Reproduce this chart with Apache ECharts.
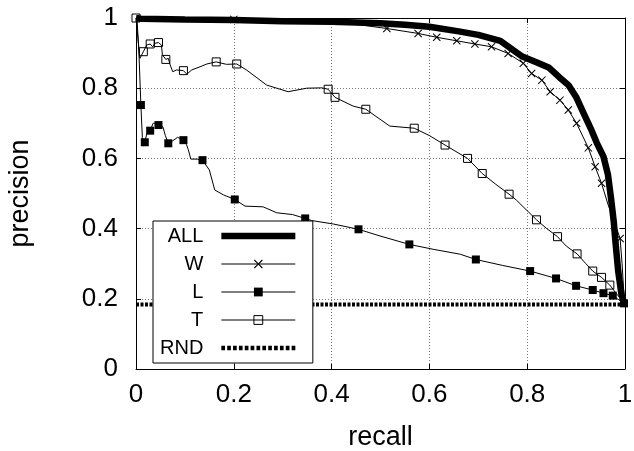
<!DOCTYPE html>
<html><head><meta charset="utf-8">
<script src="https://cdn.jsdelivr.net/npm/echarts@6/dist/echarts.min.js"></script>
<style>html,body{margin:0;padding:0;background:#fff}#c{width:634px;height:451px}</style>
</head><body><div id="c"></div><script>
const seriesNames = ['ALL', 'W', 'L', 'T', 'RND'];
const xTickLabels = ['0', '0.2', '0.4', '0.6', '0.8', '1'];
const yTickLabels = ['0', '0.2', '0.4', '0.6', '0.8', '1'];
const xAxisTitle = 'recall';
const yAxisTitle = 'precision';

const allCurve = [[0,1],[0.01,0.998],[0.1,0.996],[0.2,0.994],[0.3,0.991],[0.4,0.989],[0.5,0.985],[0.55,0.981],[0.6,0.975],[0.66,0.962],[0.7,0.952],[0.745,0.935],[0.77,0.91],[0.79,0.89],[0.82,0.873],[0.845,0.858],[0.865,0.832],[0.885,0.808],[0.9,0.775],[0.915,0.73],[0.93,0.685],[0.942,0.645],[0.956,0.605],[0.965,0.555],[0.972,0.48],[0.977,0.42],[0.98,0.37],[0.986,0.28],[0.993,0.21],[1.0,0.182]];

const wCurve = [[0,1],[0.1,0.997],[0.2,0.996],[0.3,0.993],[0.4,0.988],[0.45,0.982],[0.513,0.97],[0.577,0.956],[0.615,0.945],[0.656,0.935],[0.693,0.926],[0.727,0.918],[0.761,0.899],[0.792,0.871],[0.809,0.842],[0.83,0.823],[0.847,0.79],[0.867,0.766],[0.884,0.738],[0.901,0.70],[0.925,0.63],[0.939,0.576],[0.952,0.529],[0.965,0.47],[0.978,0.42],[0.99,0.372],[0.994,0.3],[0.997,0.23],[1,0.185]];
const wMarks = [[0.2,0.996],[0.513,0.97],[0.577,0.956],[0.615,0.945],[0.656,0.935],[0.693,0.926],[0.727,0.918],[0.761,0.899],[0.792,0.871],[0.809,0.842],[0.83,0.823],[0.847,0.79],[0.867,0.766],[0.884,0.738],[0.901,0.70],[0.925,0.63],[0.939,0.576],[0.952,0.529],[0.99,0.372]];

const lCurve = [[0.002,1],[0.006,0.9],[0.01,0.752],[0.013,0.66],[0.015,0.635],[0.018,0.646],[0.022,0.67],[0.029,0.679],[0.035,0.70],[0.04,0.70],[0.046,0.695],[0.055,0.69],[0.06,0.665],[0.066,0.643],[0.075,0.65],[0.085,0.66],[0.097,0.652],[0.103,0.64],[0.107,0.625],[0.112,0.598],[0.125,0.598],[0.136,0.595],[0.15,0.567],[0.161,0.51],[0.179,0.496],[0.202,0.483],[0.223,0.464],[0.26,0.462],[0.288,0.445],[0.32,0.44],[0.346,0.429],[0.359,0.423],[0.404,0.413],[0.455,0.398],[0.499,0.379],[0.559,0.355],[0.608,0.341],[0.663,0.327],[0.695,0.312],[0.75,0.295],[0.806,0.279],[0.859,0.258],[0.90,0.237],[0.934,0.225],[0.956,0.216],[0.975,0.209],[0.998,0.187]];
const lMarks = [[0.01,0.752],[0.018,0.646],[0.029,0.679],[0.046,0.695],[0.066,0.643],[0.097,0.652],[0.136,0.595],[0.202,0.483],[0.346,0.429],[0.455,0.398],[0.559,0.355],[0.695,0.312],[0.806,0.279],[0.859,0.258],[0.90,0.237],[0.934,0.225],[0.956,0.216],[0.975,0.209],[0.998,0.187]];

const tCurve = [[0,0.999],[0.008,0.885],[0.015,0.904],[0.022,0.923],[0.029,0.926],[0.034,0.918],[0.039,0.928],[0.046,0.93],[0.052,0.923],[0.054,0.895],[0.061,0.882],[0.066,0.885],[0.07,0.866],[0.075,0.847],[0.083,0.852],[0.097,0.85],[0.104,0.84],[0.114,0.852],[0.131,0.861],[0.145,0.869],[0.164,0.875],[0.185,0.868],[0.206,0.869],[0.226,0.852],[0.267,0.809],[0.311,0.79],[0.349,0.80],[0.38,0.801],[0.393,0.797],[0.407,0.774],[0.444,0.749],[0.47,0.74],[0.519,0.692],[0.569,0.686],[0.6,0.665],[0.632,0.638],[0.678,0.60],[0.708,0.557],[0.735,0.527],[0.763,0.498],[0.778,0.481],[0.819,0.425],[0.84,0.40],[0.862,0.377],[0.88,0.35],[0.902,0.328],[0.92,0.30],[0.934,0.279],[0.952,0.261],[0.969,0.239],[0.985,0.21],[1.0,0.187]];
const tMarks = [[0,1],[0.015,0.904],[0.029,0.926],[0.046,0.93],[0.061,0.882],[0.097,0.85],[0.164,0.875],[0.206,0.869],[0.393,0.797],[0.407,0.774],[0.47,0.74],[0.569,0.686],[0.632,0.638],[0.678,0.60],[0.708,0.557],[0.763,0.498],[0.819,0.425],[0.862,0.377],[0.902,0.328],[0.934,0.279],[0.952,0.261],[0.969,0.239]];

const rndCurve = [[0,0.184],[1,0.184]];

const FONT = '"Liberation Sans", Arial, Helvetica, sans-serif';
const crossPath = 'path://M0,0.9L0.9,0L5,4.1L9.1,0L10,0.9L5.9,5L10,9.1L9.1,10L5,5.9L0.9,10L0,9.1L4.1,5Z';
const thickIcon = 'path://M0,0H74V6.5H0Z';
let dashIcon = 'path://';
for (let i = 0; i < 13; i++) { const x0 = i * 5.875; dashIcon += 'M' + x0 + ',0H' + (x0 + 3.7) + 'V4.5H' + x0 + 'Z'; }

function tickFmt(labels) { return v => labels[Math.round(v / 0.2)]; }

const axisCommon = {
  type: 'value', min: 0, max: 1, interval: 0.2,
  axisLine: { show: true, onZero: false, lineStyle: { color: '#000', width: 1 } },
  axisTick: { show: true, inside: true, length: 5, lineStyle: { color: '#000', width: 1 } }
};

const chart = echarts.init(document.getElementById('c'), null, { renderer: 'canvas' });
chart.setOption({
  animation: false,
  backgroundColor: '#fff',
  grid: { left: 136, right: 9, top: 18, bottom: 82, containLabel: false, outerBoundsMode: 'none' },
  xAxis: [
    Object.assign({}, axisCommon, {
      position: 'bottom',
      name: xAxisTitle, nameLocation: 'middle', nameGap: 55,
      nameTextStyle: { fontSize: 27, color: '#000', fontFamily: FONT },
      axisLabel: { margin: 13, fontSize: 26, color: '#000', fontFamily: FONT, formatter: tickFmt(xTickLabels) },
      splitLine: { show: true, lineStyle: { color: '#777', type: [1, 2], width: 1 } }
    }),
    Object.assign({}, axisCommon, {
      position: 'top', axisLabel: { show: false }, splitLine: { show: false }
    })
  ],
  yAxis: [
    Object.assign({}, axisCommon, {
      position: 'left',
      name: yAxisTitle, nameLocation: 'middle', nameGap: 102, nameRotate: 90,
      nameTextStyle: { fontSize: 27, color: '#000', fontFamily: FONT },
      axisLabel: { margin: 18, fontSize: 26, color: '#000', fontFamily: FONT, formatter: tickFmt(yTickLabels) },
      splitLine: { show: true, lineStyle: { color: '#777', type: [1, 2], width: 1 } }
    }),
    Object.assign({}, axisCommon, {
      position: 'right', axisLabel: { show: false }, splitLine: { show: false }
    })
  ],
  legend: {
    data: [
      { name: seriesNames[0], icon: thickIcon, itemStyle: { color: '#000', borderWidth: 0 } },
      { name: seriesNames[1], lineStyle: { width: 1, color: '#000' }, itemStyle: { color: '#000', borderWidth: 0 } },
      { name: seriesNames[2], lineStyle: { width: 1, color: '#000' }, itemStyle: { color: '#000', borderWidth: 0 } },
      { name: seriesNames[3], lineStyle: { width: 1, color: '#000' }, itemStyle: { color: 'rgba(0,0,0,0)', borderColor: '#000', borderWidth: 1 } },
      { name: seriesNames[4], icon: dashIcon, itemStyle: { color: '#000', borderWidth: 0 } }
    ],
    orient: 'vertical', left: 153, top: 221, align: 'right',
    itemWidth: 74, itemHeight: 11, itemGap: 8,
    padding: [5, 17, 5, 7],
    backgroundColor: '#fff', borderColor: '#000', borderWidth: 1, borderRadius: 0,
    selectedMode: false,
    textStyle: { fontSize: 20, color: '#000', fontFamily: FONT, lineHeight: 20, padding: [0, 13, 0, 0] }
  },
  series: [
    { name: seriesNames[0], type: 'line', data: allCurve, showSymbol: false, symbol: 'none',
      lineStyle: { color: '#000', width: 6.5 }, itemStyle: { color: '#000' }, z: 2 },
    { name: seriesNames[1], type: 'line', data: wCurve, showSymbol: false, symbol: crossPath,
      lineStyle: { color: '#000', width: 1 }, itemStyle: { color: '#000', borderWidth: 0 }, z: 2 },
    { name: 'W marks', type: 'scatter', data: wMarks, symbol: crossPath, symbolSize: 8,
      itemStyle: { color: '#000', borderWidth: 0, opacity: 1 }, z: 2 },
    { name: seriesNames[2], type: 'line', data: lCurve, showSymbol: false, symbol: 'rect',
      lineStyle: { color: '#000', width: 1 }, itemStyle: { color: '#000', borderWidth: 0 }, z: 2 },
    { name: 'L marks', type: 'scatter', data: lMarks, symbol: 'rect', symbolSize: 8,
      itemStyle: { color: '#000', borderWidth: 0, opacity: 1 }, z: 2 },
    { name: seriesNames[3], type: 'line', data: tCurve, showSymbol: false, symbol: 'rect',
      lineStyle: { color: '#000', width: 1 }, itemStyle: { color: 'rgba(0,0,0,0)', borderColor: '#000', borderWidth: 1 }, z: 2 },
    { name: 'T marks', type: 'scatter', data: tMarks, symbol: 'rect', symbolSize: 8,
      itemStyle: { color: 'rgba(0,0,0,0)', borderColor: '#000', borderWidth: 1, opacity: 1 }, z: 2 },
    { name: seriesNames[4], type: 'line', data: rndCurve, showSymbol: false, symbol: 'none',
      lineStyle: { color: '#000', width: 4, type: [3, 1.5] }, itemStyle: { color: '#000' }, z: 2 }
  ]
});
</script></body></html>
